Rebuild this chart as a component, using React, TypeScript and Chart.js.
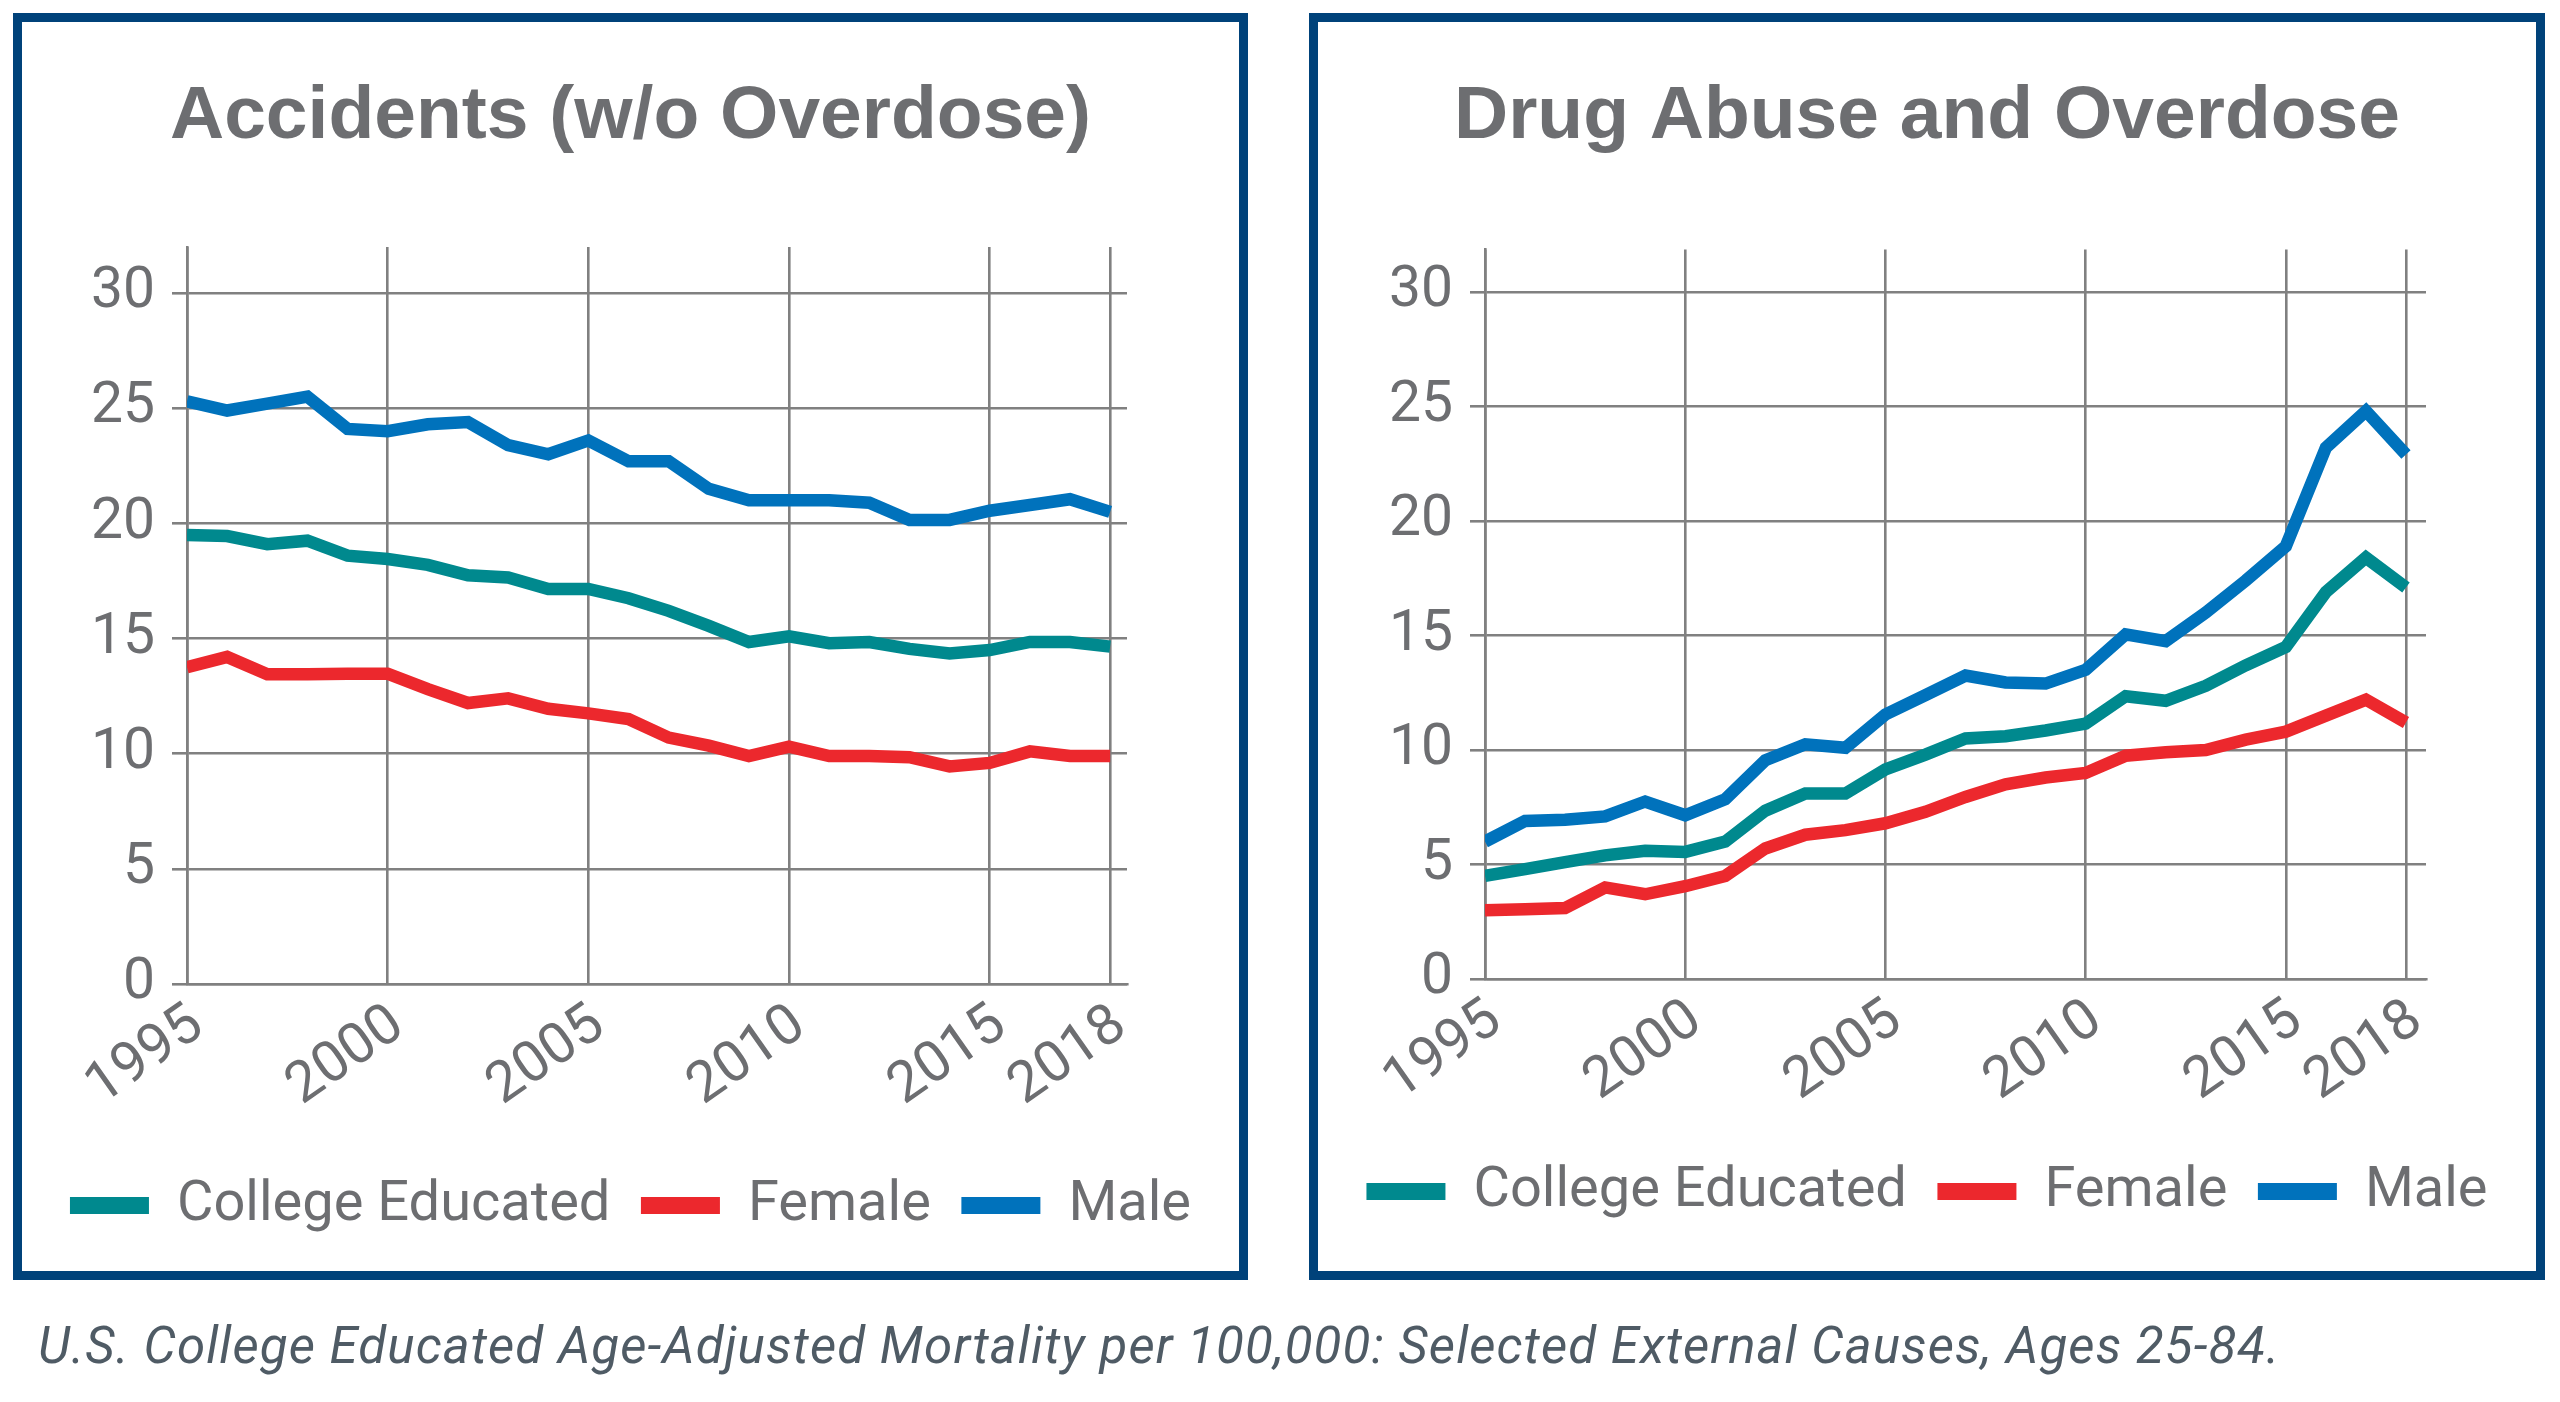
import React, { useEffect, useRef } from 'react';
import { Chart, registerables } from 'chart.js';

Chart.register(...registerables);

// ---------- data ----------
const YEARS = [
  1995, 1996, 1997, 1998, 1999, 2000, 2001, 2002, 2003, 2004, 2005, 2006,
  2007, 2008, 2009, 2010, 2011, 2012, 2013, 2014, 2015, 2016, 2017, 2018,
];
const X_TICKS = [1995, 2000, 2005, 2010, 2015, 2018];
const SERIES_LABELS = ['College Educated', 'Female', 'Male'];

const ACC_COLLEGE = [
  19.5, 19.45, 19.1, 19.25, 18.6, 18.45, 18.2, 17.75, 17.65, 17.15, 17.15, 16.75,
  16.2, 15.55, 14.85, 15.1, 14.8, 14.85, 14.55, 14.35, 14.5, 14.85, 14.85, 14.65,
];
const ACC_FEMALE = [
  13.75, 14.2, 13.45, 13.45, 13.47, 13.47, 12.8, 12.2, 12.4, 11.95, 11.75, 11.5,
  10.7, 10.35, 9.9, 10.3, 9.9, 9.9, 9.85, 9.45, 9.6, 10.1, 9.9, 9.9,
];
const ACC_MALE = [
  25.3, 24.9, 25.2, 25.5, 24.1, 24.0, 24.3, 24.4, 23.4, 23.0, 23.6, 22.7,
  22.7, 21.5, 21.0, 21.0, 21.0, 20.9, 20.15, 20.15, 20.55, 20.8, 21.05, 20.5,
];

const DRUG_COLLEGE = [
  4.5, 4.8, 5.1, 5.4, 5.6, 5.55, 6.0, 7.35, 8.1, 8.1, 9.15, 9.8,
  10.5, 10.6, 10.85, 11.15, 12.35, 12.15, 12.8, 13.7, 14.5, 16.9, 18.4, 17.1,
];
const DRUG_FEMALE = [
  3.0, 3.05, 3.1, 4.0, 3.7, 4.05, 4.5, 5.7, 6.3, 6.5, 6.8, 7.3,
  7.95, 8.5, 8.8, 9.0, 9.75, 9.9, 10.0, 10.45, 10.8, 11.5, 12.2, 11.2,
];
const DRUG_MALE = [
  6.0, 6.9, 6.95, 7.1, 7.75, 7.15, 7.85, 9.55, 10.25, 10.1, 11.55, 12.4,
  13.25, 12.95, 12.9, 13.5, 15.05, 14.75, 16.0, 17.4, 18.9, 23.2, 24.8, 22.9,
];

const TITLES = ['Accidents (w/o Overdose)', 'Drug Abuse and Overdose'];
const CAPTION =
  'U.S. College Educated Age-Adjusted Mortality per 100,000: Selected External Causes, Ages 25-84.';

// ---------- styles ----------
const COLORS = ['#00898e', '#ec282d', '#0072bc'];
const TEXT_GREY = '#6d6e71';
const GRID_GREY = '#808080';
const NAVY = '#00427a';
const BODY_FONT = 'Roboto, "Liberation Sans", Arial, sans-serif';
const TITLE_FONT = '"Liberation Sans", Arial, sans-serif';

type PanelProps = {
  title: string;
  series: number[][];
  width: number;
  height: number;
  yMax: number;
  xMax: number;
  rightPad: number;
  yAxisWidth: number;
  titleBottom: number;
  xAxisHeight: number;
  bottomPad: number;
};

function Panel(p: PanelProps) {
  const ref = useRef<HTMLCanvasElement | null>(null);

  useEffect(() => {
    if (!ref.current) return;
    const chart = new Chart(ref.current, {
      type: 'line',
      data: {
        datasets: p.series.map((vals, i) => ({
          label: SERIES_LABELS[i],
          data: YEARS.map((yr, j) => ({ x: yr, y: vals[j] })),
          borderColor: COLORS[i],
          backgroundColor: COLORS[i],
          borderWidth: 12.5,
          borderJoinStyle: 'miter',
          borderCapStyle: 'butt',
          pointRadius: 0,
          tension: 0,
          fill: false,
        })),
      },
      options: {
        animation: false,
        responsive: false,
        devicePixelRatio: 1,
        layout: { padding: { left: 0, right: 0, top: 0, bottom: p.bottomPad } },
        plugins: {
          title: {
            display: true,
            text: p.title,
            color: TEXT_GREY,
            font: { family: TITLE_FONT, size: 75, weight: 'bold', lineHeight: 1.2 },
            padding: { top: 50, bottom: p.titleBottom },
          },
          legend: {
            display: true,
            position: 'bottom',
            labels: {
              boxWidth: 79,
              boxHeight: 17,
              padding: 30.5,
              color: TEXT_GREY,
              font: { family: BODY_FONT, size: 56 },
              generateLabels: (chart: any) =>
                chart.data.datasets.map((ds: any, i: number) => ({
                  text: ds.label,
                  fillStyle: ds.borderColor,
                  strokeStyle: ds.borderColor,
                  lineWidth: 0,
                  hidden: false,
                  datasetIndex: i,
                  fontColor: TEXT_GREY,
                })),
            },
          },
          tooltip: { enabled: false },
        },
        scales: {
          x: {
            type: 'linear',
            min: 1995,
            max: p.xMax,
            afterBuildTicks: (scale: any) => {
              scale.ticks = X_TICKS.map((v) => ({ value: v }));
            },
            afterFit: (scale: any) => {
              scale.height = p.xAxisHeight;
            },
            grid: { color: GRID_GREY, lineWidth: 2.6, drawTicks: false },
            border: { display: true, color: GRID_GREY, width: 2.6 },
            ticks: {
              autoSkip: false,
              minRotation: 35,
              maxRotation: 35,
              padding: 8,
              labelOffset: 11,
              color: TEXT_GREY,
              font: { family: BODY_FONT, size: 57 },
              callback: (v: any) => String(v),
            },
          },
          y: {
            min: 0,
            max: p.yMax,
            afterFit: (scale: any) => {
              scale.width = p.yAxisWidth;
            },
            grid: { color: GRID_GREY, lineWidth: 2.6, tickLength: 15 },
            border: { display: true, color: GRID_GREY, width: 2.6 },
            ticks: {
              stepSize: 5,
              includeBounds: false,
              padding: 17,
              color: TEXT_GREY,
              font: { family: BODY_FONT, size: 57 },
              callback: (v: any) => String(v),
            },
          },
          // blank margin on the right of the plot (keeps title/legend centred on the panel)
          rightMargin: {
            type: 'linear',
            position: 'right',
            display: true,
            grid: { display: false },
            border: { display: false },
            ticks: { display: false },
            afterFit: (scale: any) => {
              scale.width = p.rightPad;
            },
          },
        },
      } as any,
    });
    return () => chart.destroy();
  }, []);

  return (
    <canvas
      ref={ref}
      width={p.width}
      height={p.height}
      style={{ display: 'block', width: p.width, height: p.height }}
    />
  );
}

const boxStyle = (left: number, width: number): React.CSSProperties => ({
  position: 'absolute',
  left,
  top: 13,
  width,
  height: 1267,
  boxSizing: 'border-box',
  border: `9px solid ${NAVY}`,
  background: '#fff',
});

export default function App() {
  return (
    <div
      style={{
        position: 'fixed',
        left: 0,
        top: 0,
        width: 2560,
        height: 1402,
        background: '#fff',
        overflow: 'hidden',
      }}
    >
      <div style={boxStyle(13, 1235)}>
        <Panel
          title={TITLES[0]}
          series={[ACC_COLLEGE, ACC_FEMALE, ACC_MALE]}
          width={1217}
          height={1249}
          yMax={32}
          xMax={2018.42}
          rightPad={112}
          yAxisWidth={165}
          titleBottom={85}
          xAxisHeight={163}
          bottomPad={27.5}
        />
      </div>
      <div style={boxStyle(1309, 1236)}>
        <Panel
          title={TITLES[1]}
          series={[DRUG_COLLEGE, DRUG_FEMALE, DRUG_MALE]}
          width={1218}
          height={1249}
          yMax={31.85}
          xMax={2018.5}
          rightPad={110}
          yAxisWidth={167}
          titleBottom={87.6}
          xAxisHeight={154}
          bottomPad={41.5}
        />
      </div>
      <div
        style={{
          position: 'absolute',
          left: 38,
          top: 1320,
          fontFamily: BODY_FONT,
          fontStyle: 'italic',
          fontSize: 51,
          letterSpacing: 1.1,
          lineHeight: 1,
          color: '#4f5b65',
          whiteSpace: 'nowrap',
        }}
      >
        {CAPTION}
      </div>
    </div>
  );
}
